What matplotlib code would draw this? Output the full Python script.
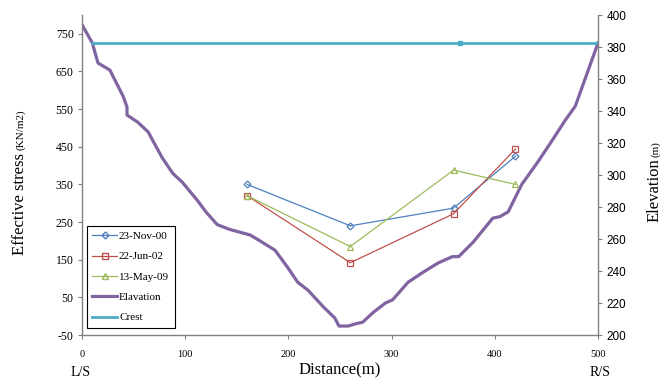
import matplotlib
matplotlib.use("Agg")
import matplotlib.pyplot as plt
from matplotlib.lines import Line2D

plt.rcParams["axes.unicode_minus"] = False

# ---- data ----
dist_pts = [160, 260, 360, 420]
nov00 = [350, 240, 287, 425]
jun02 = [320, 142, 272, 444]
may09 = [320, 185, 388, 350]

elev_x = [0, 10, 15.5, 27, 40, 43.6, 43.6, 54, 64, 77.5, 88, 97, 112, 120, 131, 143, 163,
          172, 187, 199, 209, 219, 234, 245, 249, 258, 265, 272, 282, 294, 301, 316, 330,
          345, 359, 365, 379, 398, 405, 413, 426, 441, 456, 468, 478, 500]
elev_y = [394, 382.5, 370, 365.6, 349, 342.5, 337.5, 333, 327, 311, 301, 295.6, 284, 277,
          269, 266, 262.5, 259, 253, 242.5, 233, 228, 217.5, 210.6, 205.6, 205.6, 207,
          208, 214, 220, 222, 233, 239, 245, 249, 249, 258, 273, 274, 277, 294, 307.5, 322,
          334, 343, 382.5]

crest_x = [10, 366, 500]
crest_y = [382.5, 382.5, 382.5]

left_ticks = [-50, 50, 150, 250, 350, 450, 550, 650, 750]
right_ticks = [200, 220, 240, 260, 280, 300, 320, 340, 360, 380, 400]
x_ticks = [0, 100, 200, 300, 400, 500]

serif = ["Liberation Serif", "DejaVu Serif"]
sans = ["Liberation Sans", "DejaVu Sans"]

fig = plt.figure(figsize=(6.7, 3.82), dpi=100)
ax = fig.add_axes([82/670, 47/382, (598-82)/670, (335-15)/382])
ax2 = ax.twinx()

c_blue, c_red, c_green = "#4F81BD", "#C0504D", "#9BBB59"
c_purple, c_crest = "#8064A2", "#4BACC6"

ax2.plot(elev_x, elev_y, color=c_purple, lw=2.3, zorder=2)
ax2.plot(crest_x, crest_y, color=c_crest, lw=2.0, marker="s", ms=3, markevery=[1], zorder=2)
ax2.set_ylim(200, 400)
ax2.set_yticks(right_ticks)

ax.set_zorder(ax2.get_zorder() + 1)
ax.patch.set_visible(False)
ax.plot(dist_pts, nov00, color=c_blue, lw=0.9, marker="D", ms=3.5, mfc="none", mec=c_blue, mew=0.9)
ax.plot(dist_pts, jun02, color=c_red, lw=0.9, marker="s", ms=5, mfc="none", mec=c_red, mew=0.9)
ax.plot(dist_pts, may09, color=c_green, lw=0.9, marker="^", ms=4.5, mfc="none", mec=c_green, mew=0.9)

ax.set_xlim(0, 500)
ax.set_ylim(-50, 800)
ax.set_yticks(left_ticks)
ax.set_xticks(x_ticks)

for a in (ax, ax2):
    a.spines["top"].set_visible(False)
    for s in a.spines.values():
        s.set_color("#808080")
        s.set_linewidth(1.0)
ax.spines["right"].set_visible(False)
ax2.spines["left"].set_visible(False)
ax2.spines["bottom"].set_visible(False)

ax.tick_params(axis="y", direction="out", length=3, color="#808080", labelsize=8.5, pad=3)
ax.tick_params(axis="x", direction="out", length=3, color="#808080", labelsize=7.5, pad=8)
ax2.tick_params(axis="y", direction="out", length=3, color="#808080", labelsize=8.5, pad=3)
for lab in ax.get_yticklabels() + ax.get_xticklabels():
    lab.set_fontfamily(serif)
for lab in ax2.get_yticklabels():
    lab.set_fontfamily(sans)

ax.set_xlabel("Distance(m)", fontsize=12, family=serif, labelpad=2)

# y labels with mixed sizes
fig.canvas.draw()
r = fig.canvas.get_renderer()
t1 = fig.text(20/670, 1 - 255/382, "Effective stress", rotation=90, fontsize=12,
              family=serif, ha="center", va="bottom")
bb = t1.get_window_extent(r)
fig.text(21/670, (bb.y1 + 3)/fig.bbox.height, "(KN/m2)", rotation=90, fontsize=8,
         family=serif, ha="center", va="bottom")

t2 = fig.text(655/670, 1 - 222/382, "Elevation", rotation=90, fontsize=12,
              family=serif, ha="center", va="bottom")
bb2 = t2.get_window_extent(r)
fig.text(656/670, (bb2.y1 + 1)/fig.bbox.height, "(m)", rotation=90, fontsize=8,
         family=serif, ha="center", va="bottom")

fig.text(81/670, 1 - 372/382, "L/S", fontsize=10, family=serif, ha="center", va="center")
fig.text(600/670, 1 - 372/382, "R/S", fontsize=10, family=serif, ha="center", va="center")

handles = [
    Line2D([], [], color=c_blue, lw=0.9, marker="D", ms=3.5, mfc="none", mec=c_blue),
    Line2D([], [], color=c_red, lw=0.9, marker="s", ms=5, mfc="none", mec=c_red),
    Line2D([], [], color=c_green, lw=0.9, marker="^", ms=4.5, mfc="none", mec=c_green),
    Line2D([], [], color=c_purple, lw=2.3),
    Line2D([], [], color=c_crest, lw=2.0),
]
labels = ["23-Nov-00", "22-Jun-02", "13-May-09", "Elavation", "Crest"]
leg = ax.legend(handles, labels, loc="lower left", bbox_to_anchor=(0.005, 0.015),
                prop={"family": serif, "size": 8}, frameon=True, fancybox=False,
                edgecolor="black", framealpha=1, borderpad=0.5, labelspacing=0.95,
                handlelength=2.2, handletextpad=0.2, borderaxespad=0.2)
leg.get_frame().set_linewidth(0.8)

fig.savefig("out.png", dpi=100)
